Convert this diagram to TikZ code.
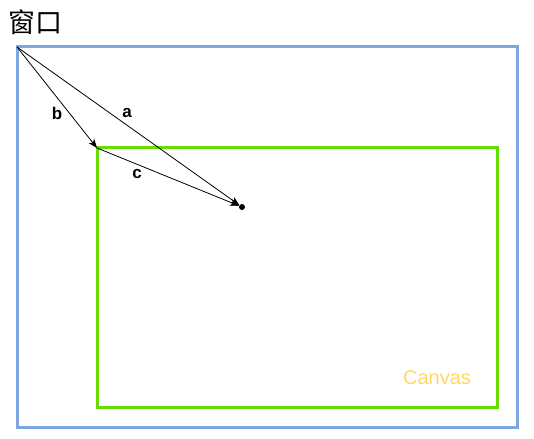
\documentclass[tikz,border=0pt]{standalone}
\usepackage{fontspec}
\setmainfont{Liberation Sans}
\newfontfamily\cjk{Noto Sans CJK SC}
\usetikzlibrary{arrows.meta}
\definecolor{winblue}{HTML}{7EA6E0}
\definecolor{cvgreen}{HTML}{66DD00}
\definecolor{cvyellow}{HTML}{FFD966}
\begin{document}
\begin{tikzpicture}[x=1pt,y=-1pt,
  vec/.style={-{Stealth[length=9pt,width=7pt,inset=2.5pt]}, line width=0.8pt},
  lbl/.style={font=\fontsize{17}{17}\selectfont\bfseries, inner sep=0pt},
  frame/.style={line width=3pt}]
\useasboundingbox (0,0) rectangle (534,438);
\draw[frame, winblue] (17,47) rectangle (517,427);
\draw[frame, cvgreen] (97,148) rectangle (497,407);
\node[font=\cjk\fontsize{27}{27}\selectfont, inner sep=0pt] (title) at (36,22) {窗口};
\coordinate (o) at (17,47);
\coordinate (g) at (97,148);
\node[circle, fill=black, inner sep=0pt, minimum size=6pt] (p) at (242,207) {};
\draw[vec] (o) -- (g);
\draw[vec] (o) -- (p);
\draw[vec] (g) -- (p);
\node[lbl] (lb) at (57,113) {b};
\node[lbl] (la) at (127,113) {a};
\node[lbl] (lc) at (137,174) {c};
\node[font=\fontsize{20}{20}\selectfont, text=cvyellow, inner sep=0pt] (cv) at (437,378) {Canvas};
\end{tikzpicture}
\end{document}
